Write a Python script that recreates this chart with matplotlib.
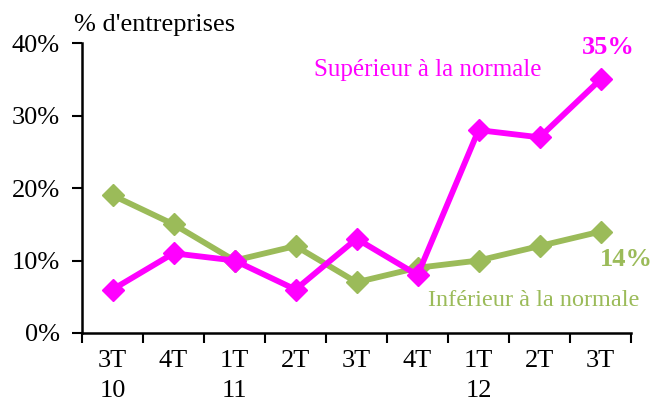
import numpy as np
import matplotlib
matplotlib.use("Agg")
import matplotlib.pyplot as plt

plt.rcParams['font.family'] = ['Liberation Serif', 'DejaVu Serif']

# trimestres
labels = ['3T\n10', '4T', '1T\n11', '2T', '3T', '4T', '1T\n12', '2T', '3T']
superieur = [6, 11, 10, 6, 13, 8, 28, 27, 35]
inferieur = [19, 15, 10, 12, 7, 9, 10, 12, 14]

magenta = '#FF00FF'
vert = '#9BBB59'

fig = plt.figure(figsize=(6.54, 4.03), dpi=100)
ax = fig.add_axes([0.1254, 0.1737, 0.8396, 0.7193])

x = np.arange(len(labels))
ax.plot(x, inferieur, color=vert, lw=4.2, marker='D', ms=11.5, zorder=3)
ax.plot(x, superieur, color=magenta, lw=4.2, marker='D', ms=11.5, zorder=4)

ax.set_xlim(-0.5, len(labels) - 0.5)
ax.set_ylim(0, 40)
ax.set_yticks([0, 10, 20, 30, 40])
ax.set_yticklabels(['0%', '10%', '20%', '30%', '40%'], fontsize=19)
ax.set_xticks(x)
ax.set_xticklabels(labels, fontsize=19, linespacing=1.5, va='top')
ax.set_xticks(np.arange(-0.5, len(labels)), minor=True)
ax.tick_params(axis='x', which='major', length=0, pad=12)
ax.tick_params(axis='x', which='minor', length=7, width=1.5, direction='out')
ax.tick_params(axis='y', length=7, width=1.5, direction='out', pad=9)

for s in ['top', 'right']:
    ax.spines[s].set_visible(False)
for s in ['left', 'bottom']:
    ax.spines[s].set_linewidth(1.8)

fig.text(0.113, 0.938, "% d'entreprises", fontsize=19, ha='left', va='center')
ax.text(5.16, 36.3, 'Supérieur à la normale', color=magenta, fontsize=18, ha='center', va='center')
ax.text(8.12, 39.4, '35%', color=magenta, fontsize=19, fontweight='bold', ha='center', va='center')
ax.text(8.42, 10.1, '14%', color=vert, fontsize=19, fontweight='bold', ha='center', va='center')
ax.text(6.91, 4.5, 'Inférieur à la normale', color=vert, fontsize=17.5, ha='center', va='center')

fig.savefig('out.png', dpi=100)
